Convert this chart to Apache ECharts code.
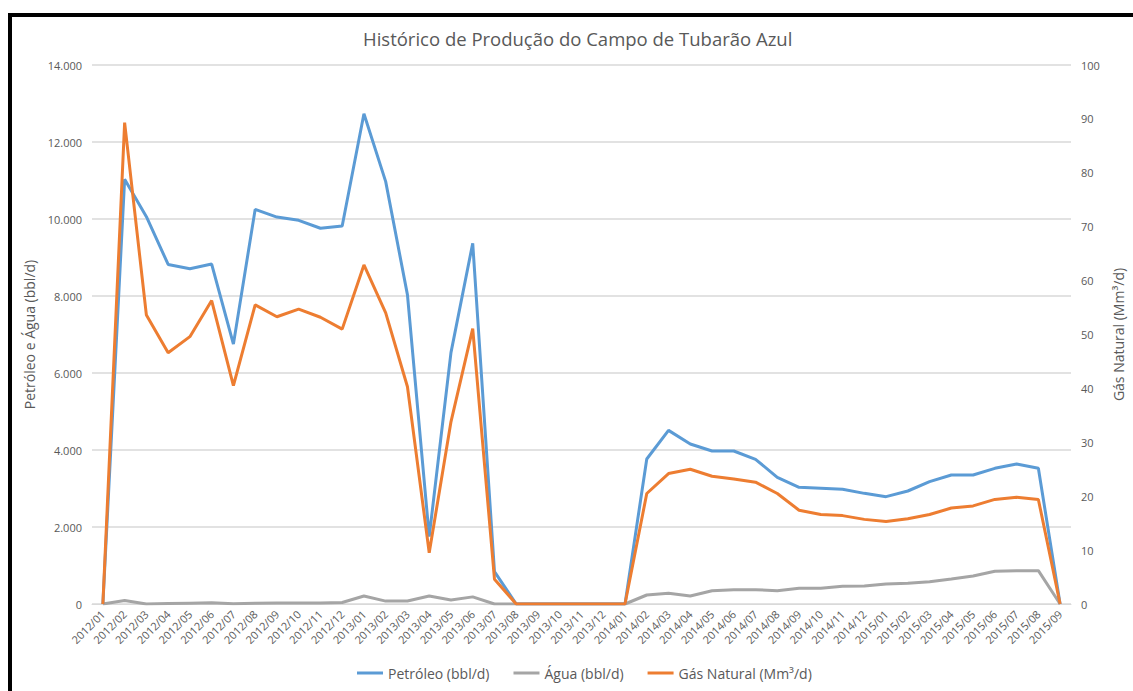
<!DOCTYPE html>
<html>
<head>
<meta charset="utf-8">
<script src="https://cdn.jsdelivr.net/npm/echarts@6/dist/echarts.min.js"></script>
<style>
  html, body { margin: 0; padding: 0; background: #fff; }
  #chart { width: 1133px; height: 691px; }
  #frame {
    position: absolute; left: 8px; top: 13px; width: 1140px; height: 700px;
    border-left: 4px solid #000; border-top: 4px solid #000; pointer-events: none;
  }
</style>
</head>
<body>
<div id="chart"></div>
<div id="frame"></div>
<script>
// months, 2012/01 .. 2015/09
const months = [
  '2012/01','2012/02','2012/03','2012/04','2012/05','2012/06','2012/07','2012/08','2012/09','2012/10','2012/11','2012/12',
  '2013/01','2013/02','2013/03','2013/04','2013/05','2013/06','2013/07','2013/08','2013/09','2013/10','2013/11','2013/12',
  '2014/01','2014/02','2014/03','2014/04','2014/05','2014/06','2014/07','2014/08','2014/09','2014/10','2014/11','2014/12',
  '2015/01','2015/02','2015/03','2015/04','2015/05','2015/06','2015/07','2015/08','2015/09'
];

// bbl/d
const petroleo = [
  0, 11030, 10060, 8820, 8710, 8830, 6750, 10250, 10050, 9965, 9760, 9820,
  12735, 10970, 8030, 1750, 6530, 9370, 840, 0, 0, 0, 0, 0,
  0, 3766, 4510, 4156, 3974, 3974, 3758, 3290, 3030, 3004, 2978, 2874,
  2788, 2935, 3177, 3351, 3351, 3524, 3636, 3524, 0
];

// bbl/d
const agua = [
  0, 90, 0, 10, 20, 30, 5, 20, 25, 25, 25, 40,
  208, 75, 78, 208, 104, 185, 0, 0, 0, 0, 0, 0,
  0, 234, 277, 208, 346, 372, 372, 346, 407, 407, 459, 468,
  520, 537, 580, 650, 727, 849, 866, 866, 0
];

// Mm3/d
const gas = [
  0, 89.3, 53.6, 46.6, 49.6, 56.3, 40.5, 55.5, 53.3, 54.7, 53.2, 51.0,
  62.9, 54.0, 40.3, 9.5, 33.8, 51.1, 4.6, 0, 0, 0, 0, 0,
  0, 20.5, 24.2, 25.0, 23.7, 23.2, 22.6, 20.5, 17.4, 16.6, 16.4, 15.7,
  15.3, 15.8, 16.6, 17.8, 18.2, 19.4, 19.8, 19.4, 0
];

const textColor = '#595959';
const font = "'Open Sans', sans-serif";

function fmtPt(v) {
  return String(v).replace(/\B(?=(\d{3})+(?!\d))/g, '.');
}

const chart = echarts.init(document.getElementById('chart'), null, { renderer: 'svg' });

chart.setOption({
  animation: false,
  textStyle: { fontFamily: font, color: textColor },
  title: {
    text: 'Histórico de Produção do Campo de Tubarão Azul',
    left: 358,
    top: 24,
    textStyle: { fontFamily: font, fontSize: 18.5, fontWeight: 'normal', color: textColor }
  },
  legend: {
    bottom: 6,
    left: 352,
    itemWidth: 26,
    itemHeight: 3,
    itemGap: 24,
    icon: 'rect',
    textStyle: { fontFamily: font, fontSize: 14, color: textColor },
    data: ['Petróleo (bbl/d)', 'Água (bbl/d)', 'Gás Natural (Mm³/d)']
  },
  grid: { left: 92, right: 56, top: 65, bottom: 87 },
  xAxis: {
    type: 'category',
    data: months,
    boundaryGap: true,
    axisLine: { show: true, lineStyle: { color: '#D9D9D9', width: 1 } },
    axisTick: { show: false },
    axisLabel: { rotate: 45, fontSize: 11, color: textColor, fontFamily: font, margin: 8, interval: 0 }
  },
  yAxis: [
    {
      type: 'value',
      min: 0, max: 14000, interval: 2000,
      name: 'Petróleo e Água (bbl/d)',
      nameLocation: 'middle',
      nameGap: 52,
      nameTextStyle: { fontSize: 14, color: textColor, fontFamily: font },
      axisLine: { show: false },
      axisTick: { show: false },
      axisLabel: { fontSize: 11, color: textColor, margin: 10, formatter: fmtPt },
      splitLine: { lineStyle: { color: '#D9D9D9', width: 1.5 } }
    },
    {
      type: 'value',
      min: 0, max: 100, interval: 10,
      name: 'Gás Natural (Mm³/d)',
      nameLocation: 'middle',
      nameGap: 40,
      nameTextStyle: { fontSize: 14, color: textColor, fontFamily: font },
      axisLine: { show: false },
      axisTick: { show: false },
      axisLabel: { fontSize: 11, color: textColor, margin: 10 },
      splitLine: { show: false }
    }
  ],
  series: [
    {
      name: 'Petróleo (bbl/d)', type: 'line', yAxisIndex: 0, data: petroleo,
      symbol: 'none', z: 3,
      lineStyle: { color: '#5B9BD5', width: 3 }, itemStyle: { color: '#5B9BD5' }
    },
    {
      name: 'Água (bbl/d)', type: 'line', yAxisIndex: 0, data: agua,
      symbol: 'none', z: 2,
      lineStyle: { color: '#A5A5A5', width: 3 }, itemStyle: { color: '#A5A5A5' }
    },
    {
      name: 'Gás Natural (Mm³/d)', type: 'line', yAxisIndex: 1, data: gas,
      symbol: 'none', z: 4,
      lineStyle: { color: '#ED7D31', width: 3 }, itemStyle: { color: '#ED7D31' }
    }
  ]
});
</script>
</body>
</html>
